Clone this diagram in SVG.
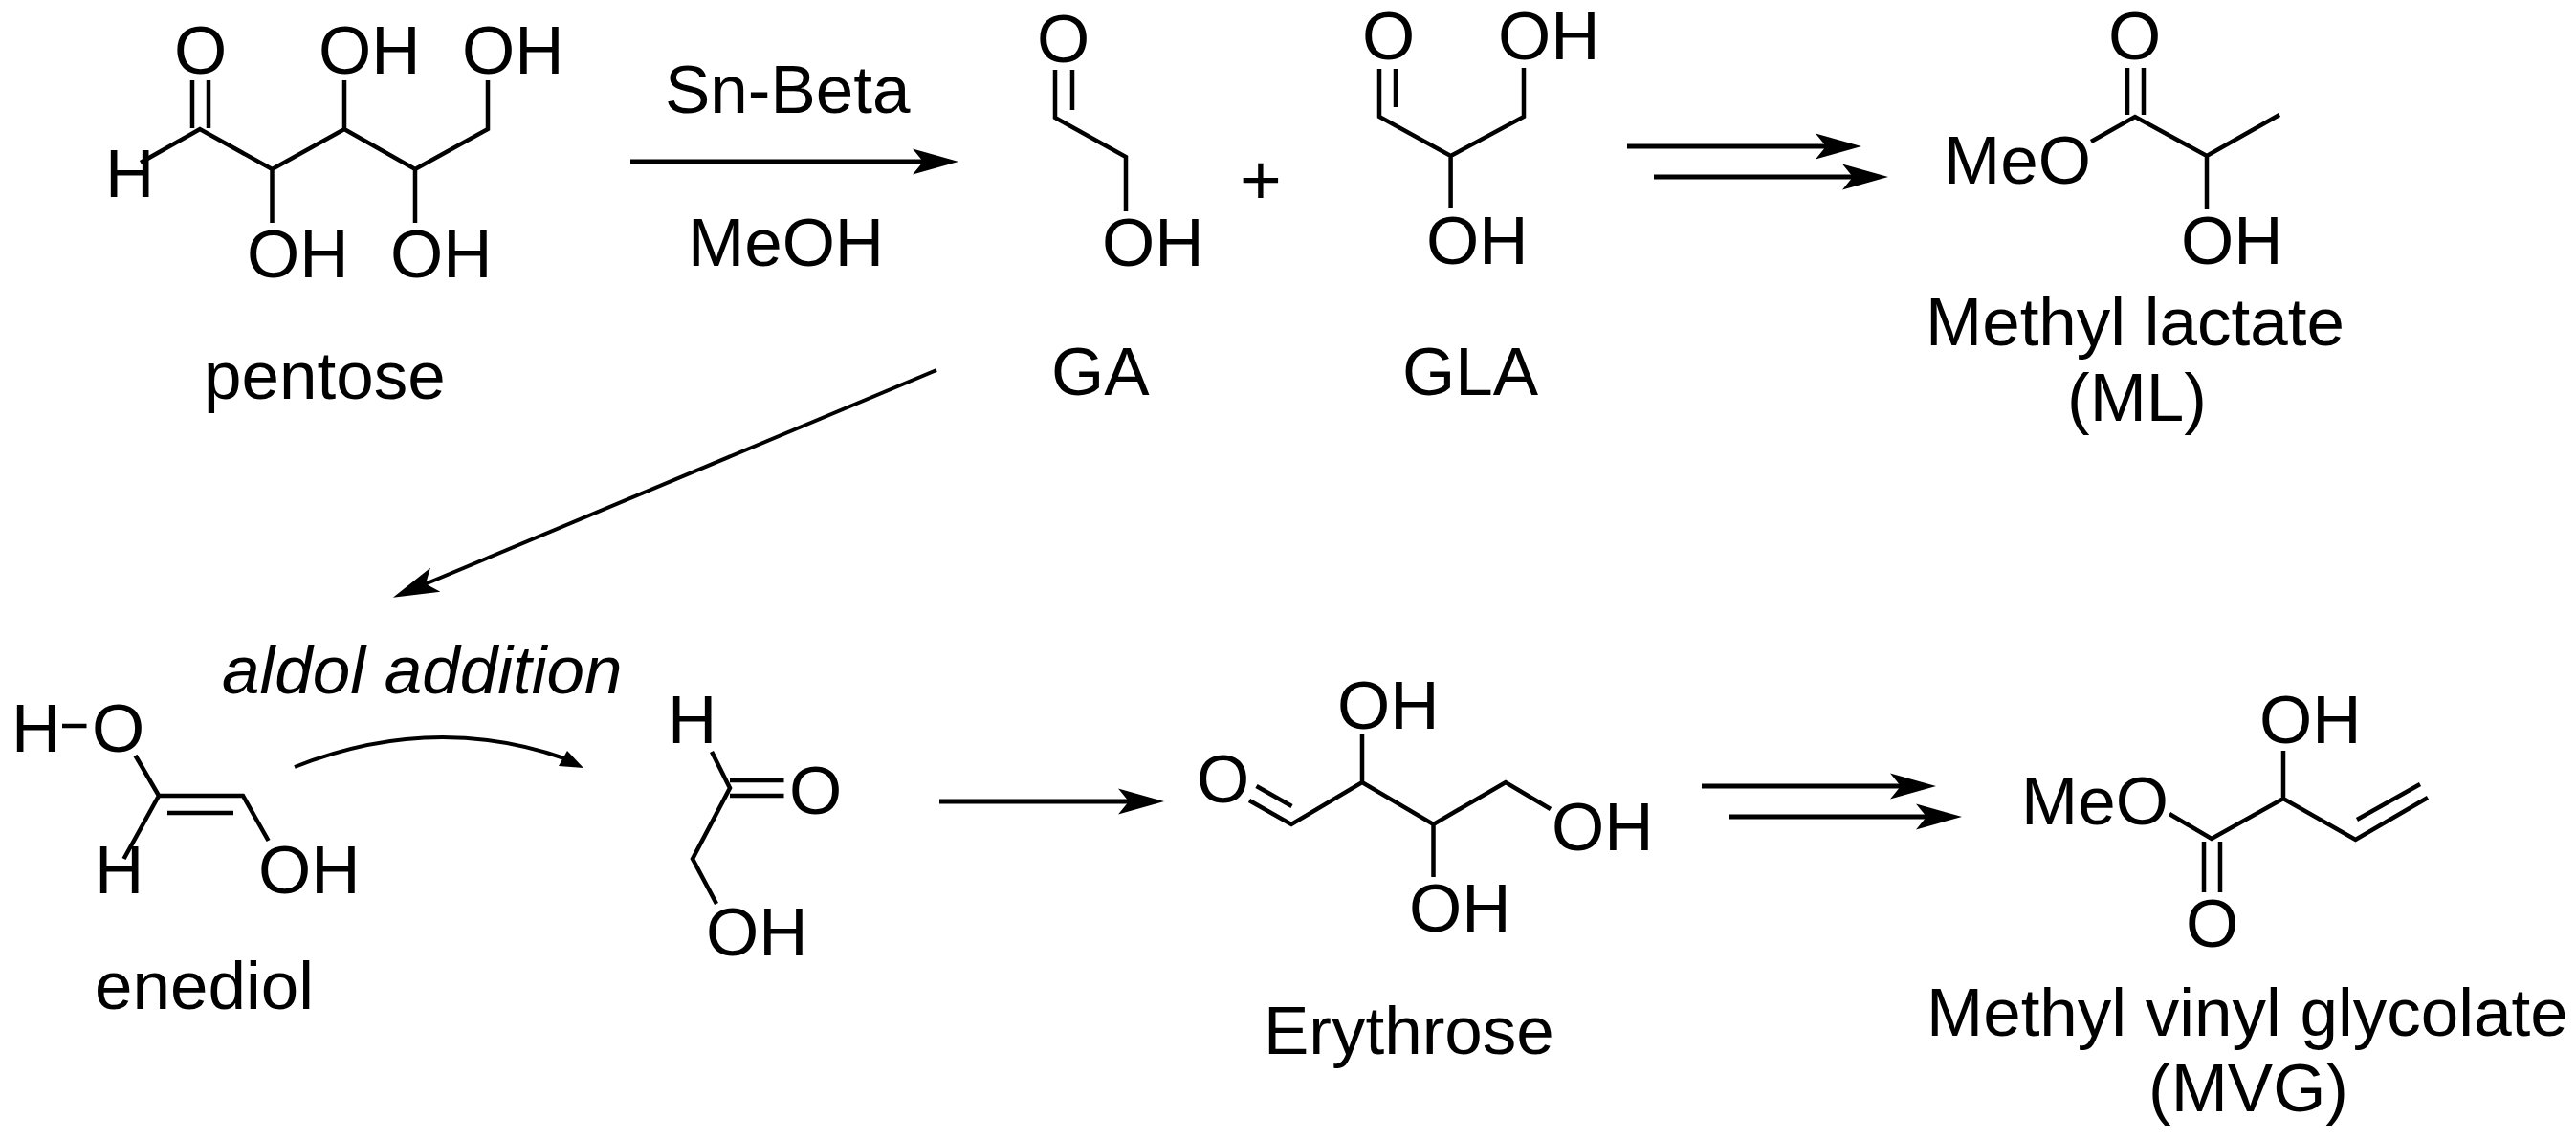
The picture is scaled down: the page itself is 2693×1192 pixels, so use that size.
<svg xmlns="http://www.w3.org/2000/svg" width="2693" height="1192" viewBox="0 0 2693 1192">
<style>
text{font-family:"Liberation Sans",Arial,sans-serif;font-size:71px;fill:#000}
.i{font-style:italic}
.b{fill:none;stroke:#000;stroke-width:4.500;stroke-linejoin:miter;stroke-linecap:butt}
.a{fill:none;stroke:#000;stroke-width:5}
.t{stroke-width:4}
</style>
<defs>
<marker id="head" markerUnits="userSpaceOnUse" markerWidth="50" markerHeight="30" viewBox="0 0 50 30" refX="11" refY="15" orient="auto"><path d="M48 15L0 1.500L11 15L0 28.500Z" fill="#000"/></marker>
</defs>
<rect width="2693" height="1192" fill="#fff"/>
<g id="connectors">
<path class="a" marker-end="url(#head)" d="M659 169H965"/>
<path class="a" marker-end="url(#head)" d="M1701 153H1909"/>
<path class="a" marker-end="url(#head)" d="M1729 185H1937"/>
<path class="a t" marker-end="url(#head)" d="M979 387L445 610.500"/>
<path class="a" d="M982 838H1180" marker-end="url(#head)"/>
<path class="a" d="M1779 822H1987" marker-end="url(#head)"/>
<path class="a" d="M1808 854H2014" marker-end="url(#head)"/>
<path class="a t" d="M308 802Q452 745 590 793"/>
<path d="M610 803L593 785L584 801Z" fill="#000"/>
</g>
<g id="pentose">
<path class="b" d="M201 84V134M218 84V134M147 170L209 135L284.500 177L360 135L434 177L510 135V84M360 135V84M284.500 177V233M434 177V233"/>
<text x="182" y="77">O</text><text x="110" y="206">H</text>
<text x="333" y="77">OH</text><text x="483" y="77">OH</text>
<text x="258" y="290">OH</text><text x="408" y="290">OH</text>
<text x="213" y="417">pentose</text>
</g>
<g id="reagents">
<text x="695" y="118">Sn-Beta</text>
<text x="719" y="278">MeOH</text>
</g>
<g id="GA">
<path class="b" d="M1121 73V115M1103 73V123L1177 164V221"/>
<text x="1084" y="65">O</text><text x="1152" y="278">OH</text>
<text x="1099" y="413">GA</text>
</g>
<text id="plus" x="1318" y="214" text-anchor="middle" style="font-size:75px">+</text>
<g id="GLA">
<path class="b" d="M1459 72V112M1442 72V122L1516.600 163L1593 122V71M1516.600 163V218"/>
<text x="1424" y="62">O</text><text x="1566" y="62">OH</text><text x="1491" y="276">OH</text>
<text x="1466" y="413">GLA</text>
</g>
<g id="ML">
<path class="b" d="M2224 71V120M2241 71V120M2186 148L2232 122L2307 163L2383 120M2307 163V219"/>
<text x="2032" y="192">MeO</text><text x="2204" y="62">O</text><text x="2280" y="276">OH</text>
<text x="2013" y="361">Methyl lactate</text>
<text x="2161" y="440">(ML)</text>
</g>
<text id="aldol" class="i" x="232" y="725">aldol addition</text>
<g id="enediol">
<path class="b" d="M65 759H90.500M141.500 790L166 832H254L280.600 879M166 832L129.500 898M175 850H244"/>
<text x="12" y="786">H</text><text x="96" y="786">O</text>
<text x="99" y="934">H</text><text x="270" y="934">OH</text>
<text x="99" y="1055">enediol</text>
</g>
<g id="aldehyde">
<path class="b" d="M744 786L763 824L724 898L749 945M763 816H819.500M763 832H819.500"/>
<text x="698" y="777">H</text><text x="825" y="851">O</text><text x="738" y="999">OH</text>
</g>
<g id="erythrose">
<path class="b" d="M1313.500 822L1350.500 843M1306 837L1350 862L1424 818L1498.500 862L1574 818L1621 846M1424 818V768M1498.500 862V917"/>
<text x="1251" y="839">O</text><text x="1398" y="762">OH</text><text x="1473" y="974">OH</text><text x="1622" y="889">OH</text>
<text x="1321" y="1102">Erythrose</text>
</g>
<g id="MVG">
<path class="b" d="M2268 851L2312 877L2387 835L2462.500 878L2538 834M2387 835V785M2464 857L2530 820M2304 880V933M2321 880V933"/>
<text x="2113" y="862">MeO</text><text x="2362" y="777">OH</text><text x="2285" y="990">O</text>
<text x="2014" y="1083">Methyl vinyl glycolate</text>
<text x="2246" y="1162">(MVG)</text>
</g>
</svg>
